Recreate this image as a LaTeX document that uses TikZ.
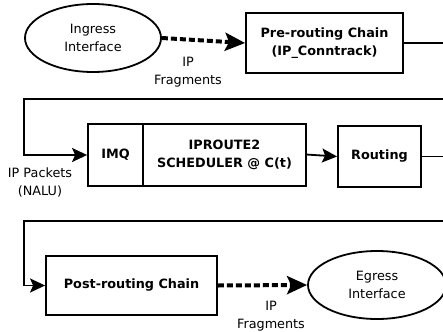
\documentclass[tikz,border=0pt]{standalone}
\usepackage{fontspec}
\setmainfont{DejaVu Sans}
\usetikzlibrary{arrows.meta,shapes.geometric}
\begin{document}
\begin{tikzpicture}[x=1pt,y=-1pt,
  every node/.style={font=\fontsize{12.8}{18}\selectfont, inner sep=0pt, align=center},
  blk/.style={draw, line width=1.8pt, font=\fontsize{12.8}{18}\selectfont\bfseries},
  oval/.style={draw, ellipse, line width=1.8pt},
  conn/.style={line width=1.8pt},
  arr/.style={conn, -{Stealth[length=15pt,width=14pt,inset=3pt]}},
  dotarr/.style={line width=4pt, dash pattern=on 6pt off 3pt, -{Stealth[length=20pt,width=18pt,inset=4pt]}},
  lbl/.style={font=\fontsize{12.8}{18}\selectfont}]
\useasboundingbox (0,0) rectangle (443,331);
% row 1
\node[oval, minimum width=136pt, minimum height=68pt] (ing) at (93,38) {Ingress\\Interface};
\node[blk, minimum width=157pt, minimum height=60pt] (pre) at (324.5,43) {Pre-routing Chain\\(IP\_Conntrack)};
\draw[dotarr] (ing.east) -- (pre.west);
\node[lbl] (f1) at (188,72) {IP\\Fragments};
\coordinate (r1) at (443,43);
\draw[conn] (pre.east) -- (r1);
% row 2
\node[blk, minimum width=55pt, minimum height=62pt] (imq) at (115.5,155) {IMQ};
\node[blk, minimum width=163pt, minimum height=62pt] (sch) at (224.5,155) {IPROUTE2\\SCHEDULER @ C(t)};
\node[blk, minimum width=83pt, minimum height=61pt] (rt) at (379.5,156.5) {Routing};
\coordinate (l2a) at (443,99);
\coordinate (l2b) at (24,99);
\coordinate (l2c) at (24,155);
\draw[arr] (l2a) -- (l2b) -- (l2c) -- (imq.west);
\draw[arr] (306,154.5) -- (rt.west);
\node[lbl] (pk) at (40,182) {IP Packets\\(NALU)};
\coordinate (r2) at (443,156.5);
\draw[conn] (rt.east) -- (r2);
% row 3
\node[blk, minimum width=171pt, minimum height=59pt] (post) at (131.5,285.5) {Post-routing Chain};
\node[oval, minimum width=138pt, minimum height=68pt] (egr) at (377,285) {Egress\\Interface};
\coordinate (l3a) at (443,221);
\coordinate (l3b) at (24,221);
\coordinate (l3c) at (24,285.5);
\draw[arr] (l3a) -- (l3b) -- (l3c) -- (post.west);
\draw[dotarr] (post.east) -- (egr.west);
\node[lbl] (f2) at (271,316) {IP\\Fragments};
\end{tikzpicture}
\end{document}
